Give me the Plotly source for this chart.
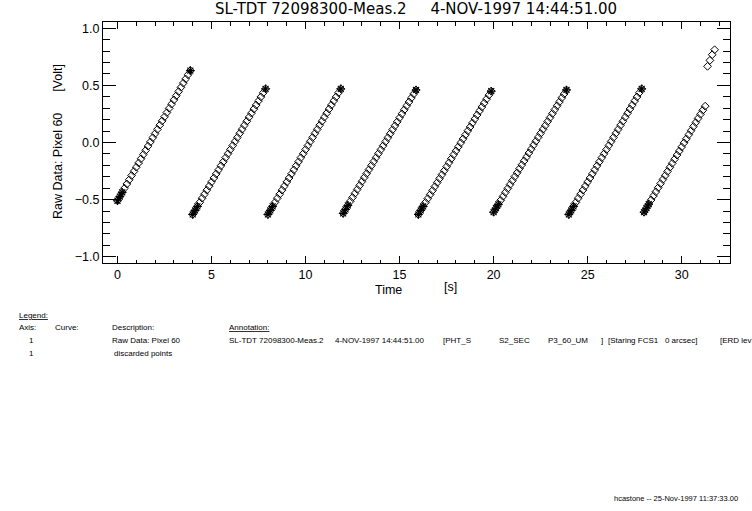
import plotly.graph_objects as go

# ---------------- data ----------------
ramp_starts = [0.0, 4.0, 8.0, 12.0, 16.0, 20.0, 24.0, 28.0]
sample_offsets = [0.000, 0.125, 0.250, 0.375, 0.500, 0.625, 0.750, 0.875,
                  1.000, 1.125, 1.250, 1.375, 1.500, 1.625, 1.750, 1.875,
                  2.000, 2.125, 2.250, 2.375, 2.500, 2.625, 2.750, 2.875,
                  3.000, 3.125, 3.250, 3.375, 3.500, 3.625, 3.750, 3.875]

ramp1 = [-0.510, -0.473, -0.436, -0.400, -0.363, -0.326, -0.289, -0.253,
         -0.216, -0.179, -0.142, -0.105, -0.069, -0.032, 0.005, 0.042,
         0.078, 0.115, 0.152, 0.189, 0.225, 0.262, 0.299, 0.336,
         0.373, 0.409, 0.446, 0.483, 0.520, 0.556, 0.593, 0.630]
ramp2 = [-0.630, -0.595, -0.559, -0.524, -0.488, -0.453, -0.417, -0.382,
         -0.346, -0.311, -0.275, -0.240, -0.204, -0.169, -0.133, -0.098,
         -0.062, -0.027, 0.009, 0.044, 0.080, 0.115, 0.151, 0.186,
         0.222, 0.257, 0.293, 0.328, 0.364, 0.399, 0.435, 0.470]
ramp3 = [-0.630, -0.595, -0.559, -0.524, -0.488, -0.453, -0.417, -0.382,
         -0.346, -0.311, -0.275, -0.240, -0.204, -0.169, -0.133, -0.098,
         -0.062, -0.027, 0.009, 0.044, 0.080, 0.115, 0.151, 0.186,
         0.222, 0.257, 0.293, 0.328, 0.364, 0.399, 0.435, 0.470]
ramp4 = [-0.620, -0.585, -0.550, -0.515, -0.481, -0.446, -0.411, -0.376,
         -0.341, -0.306, -0.272, -0.237, -0.202, -0.167, -0.132, -0.097,
         -0.063, -0.028, 0.007, 0.042, 0.077, 0.112, 0.146, 0.181,
         0.216, 0.251, 0.286, 0.321, 0.355, 0.390, 0.425, 0.460]
ramp5 = [-0.630, -0.595, -0.560, -0.525, -0.491, -0.456, -0.421, -0.386,
         -0.351, -0.316, -0.282, -0.247, -0.212, -0.177, -0.142, -0.107,
         -0.073, -0.038, -0.003, 0.032, 0.067, 0.102, 0.136, 0.171,
         0.206, 0.241, 0.276, 0.311, 0.345, 0.380, 0.415, 0.450]
ramp6 = [-0.610, -0.575, -0.541, -0.506, -0.472, -0.437, -0.403, -0.368,
         -0.334, -0.299, -0.265, -0.230, -0.196, -0.161, -0.127, -0.092,
         -0.058, -0.023, 0.011, 0.046, 0.080, 0.115, 0.149, 0.184,
         0.218, 0.253, 0.287, 0.322, 0.356, 0.391, 0.425, 0.460]
ramp7 = [-0.630, -0.595, -0.559, -0.524, -0.488, -0.453, -0.417, -0.382,
         -0.346, -0.311, -0.275, -0.240, -0.204, -0.169, -0.133, -0.098,
         -0.062, -0.027, 0.009, 0.044, 0.080, 0.115, 0.151, 0.186,
         0.222, 0.257, 0.293, 0.328, 0.364, 0.399, 0.435, 0.470]
ramp8 = [-0.610, -0.574, -0.539, -0.503, -0.467, -0.432, -0.396, -0.360,
         -0.324, -0.289, -0.253, -0.217, -0.182, -0.146, -0.110, -0.075,
         -0.039, -0.003, 0.032, 0.068, 0.104, 0.140, 0.175, 0.211,
         0.247, 0.282, 0.318, 0.667, 0.719, 0.769, 0.812]
ramps = [ramp1, ramp2, ramp3, ramp4, ramp5, ramp6, ramp7, ramp8]

n_discard_start = 3           # first readouts of each ramp flagged
discard_last = [True, True, True, True, True, True, True, False]

title_text = "SL-TDT 72098300-Meas.2\u00a0\u00a0\u00a0\u00a0\u00a04-NOV-1997 14:44:51.00"

# ---------------- assemble ----------------
t_all, v_all, t_bad, v_bad = [], [], [], []
for k, (t0, vals) in enumerate(zip(ramp_starts, ramps)):
    for i, v in enumerate(vals):
        t = t0 + sample_offsets[i]
        t_all.append(t)
        v_all.append(v)
        if i < n_discard_start or (discard_last[k] and i == len(vals) - 1):
            t_bad.append(t)
            v_bad.append(v)

FONT = "Liberation Sans"
fig = go.Figure()
fig.add_trace(go.Scatter(
    x=t_all, y=v_all, mode="markers", name="Raw Data: Pixel 60",
    marker=dict(symbol="diamond-open", size=6, color="black",
                line=dict(width=1, color="black"))))
fig.add_trace(go.Scatter(
    x=t_bad, y=v_bad, mode="markers", name="discarded points",
    marker=dict(symbol="asterisk-open", size=7, color="black",
                line=dict(width=1.2, color="black"))))

L, R, T, B = 103, 730, 22, 263
W, H = 752, 511


def pxx(x):
    return (x - L) / (R - L)


def pyy(y):
    return (B - y) / (B - T)


annots = []


def txt(text, x, y, size=8, xanchor="left", angle=0, family=FONT):
    annots.append(dict(text=text, x=pxx(x), y=pyy(y), xref="paper", yref="paper",
                       xanchor=xanchor, yanchor="middle", showarrow=False,
                       textangle=angle,
                       font=dict(family=family, size=size, color="black")))


# title
txt(title_text, 416, 9, size=15, xanchor="center", family="DejaVu Sans")
# axis titles
txt("Time", 388, 290, size=12.5, xanchor="center")
txt("[s]", 450, 287, size=12.5, xanchor="center")
txt("Raw Data: Pixel 60\u00a0\u00a0\u00a0\u00a0\u00a0\u00a0[Volt]", 58, 142,
    size=12.5, xanchor="center", angle=-90)

# legend block
txt("<u>Legend:</u>", 17, 315)
txt("Axis:", 17, 327)
txt("Curve:", 53, 327)
txt("Description:", 110, 327)
txt("<u>Annotation:</u>", 227, 327)
txt("1", 31, 340, xanchor="center")
txt("Raw Data: Pixel 60", 110, 340)
txt("SL-TDT 72098300-Meas.2", 227, 340)
txt("4-NOV-1997 14:44:51.00", 333, 340)
txt("[PHT_S", 441, 340)
txt("S2_SEC", 497, 340)
txt("P3_60_UM", 546, 340)
txt("]", 599, 340)
txt("[Staring FCS1\u00a0\u00a0\u00a00 arcsec]", 606, 340)
txt("[ERD lev", 718, 340)
txt("1", 31, 353, xanchor="center")
txt("discarded points", 112, 353)
# footer
txt("hcastone -- 25-Nov-1997 11:37:33.00", 612, 498, size=7.5)

axis_common = dict(showline=True, linecolor="black", linewidth=1, mirror="ticks",
                   ticks="inside", tickcolor="black", tickwidth=1,
                   showgrid=False, zeroline=False,
                   tickfont=dict(family=FONT, size=12.5, color="black"))

fig.update_layout(
    width=W, height=H, autosize=False,
    margin=dict(l=L, r=W - R, t=T, b=H - B, pad=0),
    paper_bgcolor="white", plot_bgcolor="white",
    showlegend=False,
    annotations=annots,
    xaxis=dict(range=[-0.77, 32.57], tick0=0, dtick=5, ticklen=7,
               minor=dict(dtick=1, ticklen=3.5, ticks="inside", tickcolor="black"),
               **axis_common),
    yaxis=dict(range=[-1.055, 1.055], tick0=0, dtick=0.5, ticklen=13,
               tickformat=".1f",
               minor=dict(dtick=0.1, ticklen=7, ticks="inside", tickcolor="black"),
               **axis_common),
)

fig.write_html("out.html",
               config={"displayModeBar": False},
               post_script="document.body.style.margin='0px';"
                           "document.body.style.padding='0px';")
